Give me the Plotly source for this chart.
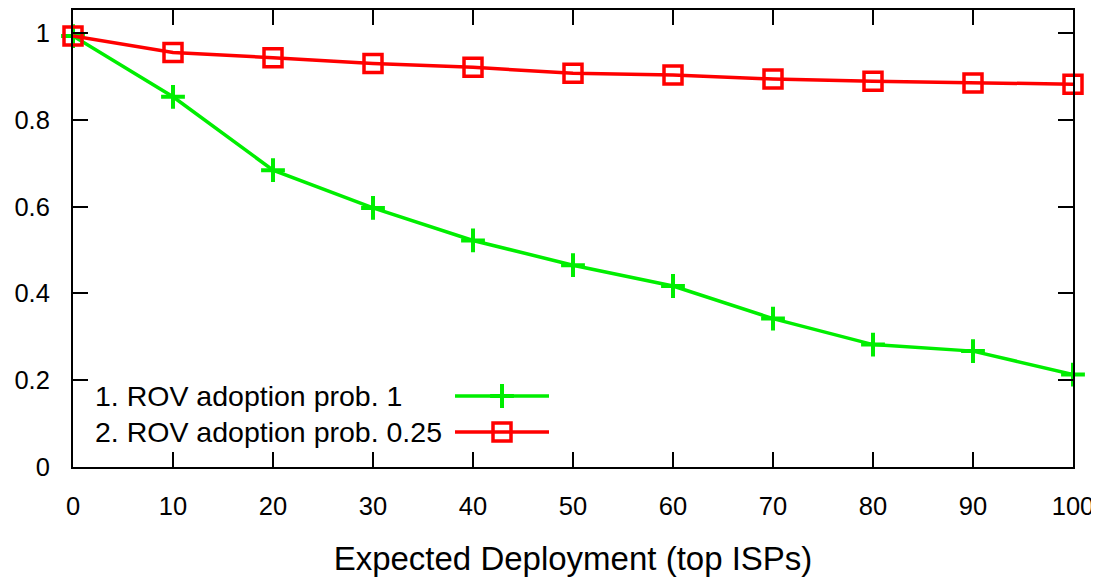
import plotly.graph_objects as go

deployment = [0, 10, 20, 30, 40, 50, 60, 70, 80, 90, 100]
rov_prob_1 = [0.993, 0.853, 0.684, 0.597, 0.522, 0.465, 0.417, 0.342, 0.282, 0.267, 0.213]
rov_prob_025 = [0.993, 0.955, 0.943, 0.930, 0.921, 0.907, 0.903, 0.894, 0.889, 0.885, 0.882]
series_names = ["1. ROV adoption prob. 1", "2. ROV adoption prob. 0.25"]
x_ticks = [0, 10, 20, 30, 40, 50, 60, 70, 80, 90, 100]
y_ticks = [0, 0.2, 0.4, 0.6, 0.8, 1]
y_tick_labels = ["0", "0.2", "0.4", "0.6", "0.8", "1"]

GREEN = "#00ee00"
RED = "#ff0000"
FONT = "Liberation Sans, Arial, sans-serif"

plus_marker = dict(symbol="cross-thin", size=17, color=GREEN, line=dict(color=GREEN, width=4))
square_marker = dict(symbol="square-open", size=18, color=RED, line=dict(color=RED, width=3.5))

fig = go.Figure()
fig.add_trace(go.Scatter(x=deployment, y=rov_prob_1, mode="lines+markers", name=series_names[0],
                         line=dict(color=GREEN, width=3.5), marker=plus_marker,
                         cliponaxis=False, showlegend=False))
fig.add_trace(go.Scatter(x=deployment, y=rov_prob_025, mode="lines+markers", name=series_names[1],
                         line=dict(color=RED, width=3.5), marker=square_marker,
                         cliponaxis=False, showlegend=False))

# custom legend (text left of sample, gnuplot style) on an overlay pixel axis
# overlay axis ranges are in page pixels of the plot area
rows = [396, 432]
styles = [(GREEN, plus_marker), (RED, square_marker)]
for name, ry, (col, mk) in zip(series_names, rows, styles):
    fig.add_trace(go.Scatter(x=[455, 549], y=[ry, ry], mode="lines", line=dict(color=col, width=3.5),
                             xaxis="x2", yaxis="y2", showlegend=False, hoverinfo="skip"))
    fig.add_trace(go.Scatter(x=[502], y=[ry], mode="markers", marker=mk,
                             xaxis="x2", yaxis="y2", showlegend=False, hoverinfo="skip"))
    fig.add_annotation(x=93, y=ry, xref="x2", yref="y2", text=name, showarrow=False,
                       xanchor="left", yanchor="middle", font=dict(size=28.5, color="black", family=FONT))

axis_common = dict(showgrid=False, zeroline=False, showline=True, linecolor="black", linewidth=2,
                   mirror="ticks", ticks="inside", ticklen=15, tickwidth=2, tickcolor="black",
                   automargin=False,
                   tickfont=dict(size=25.5, color="black", family=FONT))

# page body has an 8px margin, so the figure is offset by 8px
fig.update_layout(
    width=1091, height=569,
    margin=dict(l=65, r=26, t=2, b=110),
    paper_bgcolor="white", plot_bgcolor="white",
    showlegend=False,
    xaxis=dict(range=[0, 100], tickvals=x_ticks, ticklabelstandoff=15,
               title=dict(text="Expected Deployment (top ISPs)", font=dict(size=33, color="black", family=FONT),
                          standoff=30),
               **axis_common),
    yaxis=dict(range=[0, 1.053], tickvals=y_ticks, ticktext=y_tick_labels, ticklabelstandoff=16,
               **axis_common),
    xaxis2=dict(range=[73, 1073], overlaying="x", visible=False, fixedrange=True),
    yaxis2=dict(range=[467, 10], overlaying="y", visible=False, fixedrange=True),
)

fig.write_html("out.html")
